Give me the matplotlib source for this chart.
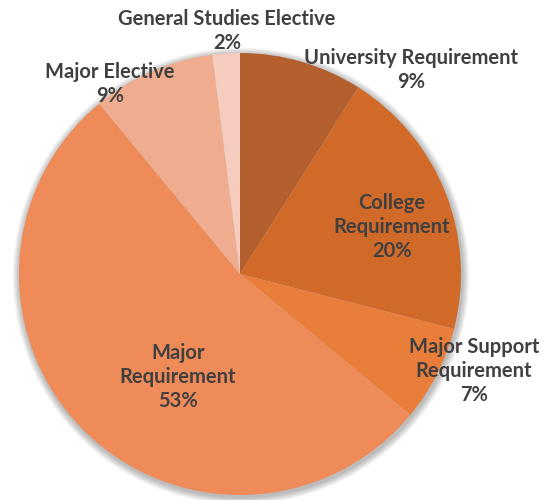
import matplotlib
matplotlib.use("Agg")
import matplotlib.pyplot as plt
from matplotlib.patches import Circle

categories = ["University Requirement", "College Requirement", "Major Support Requirement",
              "Major Requirement", "Major Elective", "General Studies Elective"]
values = [9, 20, 7, 53, 9, 2]
label_texts = ["University Requirement\n9%", "College\nRequirement\n20%",
               "Major Support\nRequirement\n7%", "Major\nRequirement\n53%",
               "Major Elective\n9%", "General Studies Elective\n2%"]
colors = ["#B35F2E", "#D16A28", "#E97D3A", "#EE8B58", "#F0AC8E", "#F5CCBE"]
label_pos = [(411, 430), (392, 273), (474, 129), (178, 123), (110, 416), (227, 469)]

fig = plt.figure(figsize=(5.57, 5.0), dpi=100)
ax = fig.add_axes([0, 0, 1, 1])

cx, cy, r = 240, 226, 221
# soft shadow
for i in range(8):
    ax.add_patch(Circle((cx + 1, cy - 2), r + 1 + i * 0.9, color="black",
                        alpha=0.035, lw=0, zorder=0))

ax.pie(values, colors=colors, startangle=90, counterclock=False,
       center=(cx, cy), radius=r, frame=True,
       wedgeprops=dict(linewidth=0, edgecolor="none"))
ax.set_xlim(0, 557)
ax.set_ylim(0, 500)
ax.set_aspect("equal")
ax.axis("off")

for txt, (x, y) in zip(label_texts, label_pos):
    ax.text(x, y, txt, ha="center", va="center", fontsize=14.5,
            fontweight="bold", family="Lato", color="#404040",
            linespacing=1.22, zorder=5)

fig.savefig("out.png", dpi=100)
